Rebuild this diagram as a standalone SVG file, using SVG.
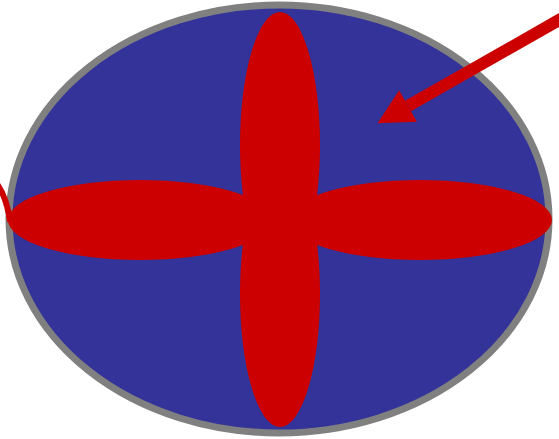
<svg xmlns="http://www.w3.org/2000/svg" width="559" height="439" viewBox="0 0 559 439">
  <style>
    .petal { fill: #CC0000; stroke: none; }
    .conn { stroke: #CC0000; fill: none; }
  </style>
  <defs>
    <marker id="head" markerUnits="userSpaceOnUse" markerWidth="40" markerHeight="40" viewBox="0 -20 36 40" refX="0" refY="0" orient="auto">
      <path d="M0,-18 L35,0 L0,18 z" fill="#CC0000"/>
    </marker>
  </defs>
  <rect width="559" height="439" fill="#FFFFFF"/>
  <g id="disc">
    <ellipse cx="279" cy="219" rx="270" ry="214" fill="#333399" stroke="#808080" stroke-width="7"/>
  </g>
  <g id="petal-top">
    <ellipse class="petal" cx="280" cy="145" rx="40" ry="133"/>
  </g>
  <g id="petal-bottom">
    <ellipse class="petal" cx="280" cy="294" rx="40" ry="133"/>
  </g>
  <g id="petal-left">
    <ellipse class="petal" cx="140" cy="220" rx="132" ry="40"/>
  </g>
  <g id="petal-right">
    <ellipse class="petal" cx="420" cy="220" rx="132" ry="40"/>
  </g>
  <g id="connectors">
    <line class="conn" x1="566" y1="16" x2="408" y2="106" stroke-width="12" marker-end="url(#head)"/>
    <path class="conn" d="M -3 184 Q 7 198 10 222" stroke-width="6"/>
  </g>
</svg>
